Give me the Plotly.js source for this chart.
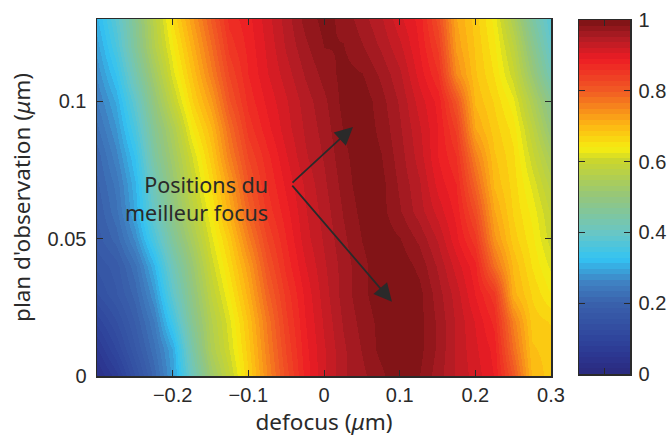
<!DOCTYPE html>
<html><head><meta charset="utf-8">
<script src="https://cdn.plot.ly/plotly-3.0.1.min.js"></script>
<style>html,body{margin:0;padding:0;background:#fff}</style></head>
<body><div id="chart" style="width:671px;height:437px"></div>
<script>
const defocus=[-0.3,-0.275,-0.25,-0.225,-0.2,-0.175,-0.15,-0.125,-0.1,-0.075,-0.05,-0.025,0,0.025,0.05,0.075,0.1,0.125,0.15,0.175,0.2,0.225,0.25,0.275,0.3];
const plan=[0,0.01,0.02,0.03,0.04,0.05,0.06,0.07,0.08,0.09,0.10,0.11,0.12,0.13];
const intensity=[
[.03,.07,.14,.21,.29,.41,.52,.59,.67,.75,.82,.88,.92,.95,.965,.98,1,.985,.96,.935,.915,.89,.81,.7,.68],
[.06,.11,.17,.23,.3,.44,.55,.61,.68,.76,.83,.885,.92,.95,.97,.99,1,.99,.965,.935,.91,.885,.78,.69,.68],
[.1,.14,.19,.25,.35,.47,.56,.62,.69,.77,.84,.89,.925,.955,.975,.99,1,.99,.965,.935,.905,.87,.76,.68,.67],
[.14,.17,.21,.28,.39,.49,.58,.64,.71,.79,.85,.895,.93,.96,.98,.995,1,.99,.96,.93,.89,.85,.71,.67,.64],
[.16,.18,.23,.31,.42,.51,.6,.66,.73,.81,.865,.905,.935,.96,.98,.995,.995,.98,.95,.915,.88,.78,.7,.655,.62],
[.18,.21,.27,.36,.46,.54,.62,.68,.76,.83,.875,.915,.94,.965,.985,.995,.985,.965,.935,.895,.85,.74,.68,.645,.6],
[.19,.23,.3,.4,.49,.57,.64,.71,.79,.85,.885,.92,.945,.97,.99,.99,.97,.945,.915,.885,.82,.72,.67,.635,.59],
[.2,.24,.31,.42,.51,.59,.66,.73,.81,.86,.895,.925,.95,.975,.995,.99,.965,.94,.9,.875,.79,.7,.665,.62,.57],
[.21,.26,.33,.45,.53,.61,.68,.76,.83,.87,.905,.935,.955,.98,.995,.985,.96,.93,.89,.86,.76,.69,.66,.6,.54],
[.23,.28,.36,.47,.55,.64,.7,.78,.85,.885,.915,.94,.96,.985,.995,.98,.955,.925,.89,.84,.72,.68,.65,.58,.5],
[.25,.3,.39,.5,.59,.67,.73,.81,.865,.895,.92,.945,.965,.99,.995,.975,.95,.915,.885,.81,.7,.67,.63,.55,.47],
[.27,.33,.43,.53,.62,.69,.76,.83,.875,.905,.93,.955,.975,.99,.985,.965,.94,.9,.86,.75,.69,.655,.6,.51,.42],
[.29,.36,.46,.56,.64,.71,.78,.85,.88,.91,.94,.965,.985,.985,.97,.95,.925,.89,.84,.73,.685,.645,.58,.48,.39],
[.31,.38,.47,.57,.66,.73,.8,.865,.885,.915,.945,.975,.99,.98,.96,.94,.91,.885,.82,.72,.68,.635,.55,.45,.37]
];
const xTicks=[-0.2,-0.1,0,0.1,0.2,0.3];
const xLabels=['−0.2','−0.1','0','0.1','0.2','0.3'];
const yTicks=[0,0.05,0.1];
const yLabels=['0','0.05','0.1'];
const barTicks=[0,0.2,0.4,0.6,0.8,1];
const barLabels=['0','0.2','0.4','0.6','0.8','1'];
const stopPos=[0,.05,.1,.2,.26,.325,.4,.5,.6,.637,.7,.8,.89,.95,1];
const stopCol=[[43,42,126],[44,53,144],[47,69,156],[58,97,172],[63,130,195],[51,196,243],[105,198,196],[148,198,124],[200,213,47],[246,237,16],[253,185,19],[241,90,36],[237,28,36],[176,28,36],[122,19,21]];
const nLevels=64;

function colorAt(t){
  let i=0; while(i<stopPos.length-2 && t>stopPos[i+1]) i++;
  const f=(t-stopPos[i])/(stopPos[i+1]-stopPos[i]);
  const c=stopCol[i].map((v,k)=>Math.round(v+f*(stopCol[i+1][k]-v)));
  return 'rgb('+c.join(',')+')';
}
const colorscale=[], levels=[], levelY=[];
for(let i=0;i<nLevels;i++){
  const c=colorAt((i+.5)/nLevels);
  colorscale.push([i/nLevels,c],[(i+1)/nLevels,c]);
  levels.push([(i+.5)/nLevels]);
  levelY.push((i+.5)/nLevels);
}
const ink='#2a2a2a', family='"Noto Sans", sans-serif';
const font={family:'"Liberation Sans", Arial, sans-serif',size:20,color:ink}, titleFont={family:family,size:22.5,color:ink};
const W=671,H=437;
const base={showgrid:false,zeroline:false,showline:true,linecolor:ink,linewidth:1.5,mirror:'ticks',ticks:'inside',ticklen:6,tickcolor:ink,tickwidth:1,tickfont:font};
const tail={ax:-0.0436,ay:0.0699,axref:'x',ayref:'y',xref:'x',yref:'y',text:'',showarrow:true,arrowhead:2,arrowsize:2,arrowwidth:1.8,arrowcolor:ink};
Plotly.newPlot('chart',[
 {type:'heatmap',x:defocus,y:plan,z:intensity,zmin:0,zmax:1,zsmooth:'best',colorscale:colorscale,showscale:false,xaxis:'x',yaxis:'y'},
 {type:'heatmap',x:[0],y:levelY,z:levels,zmin:0,zmax:1,colorscale:colorscale,showscale:false,xaxis:'x2',yaxis:'y2'}
],{
 width:W,height:H,margin:{l:0,r:0,t:0,b:0},paper_bgcolor:'#fff',plot_bgcolor:'#fff',font:font,showlegend:false,
 xaxis:Object.assign({},base,{domain:[97/W,551/W],range:[-0.3,0.3],tickmode:'array',tickvals:xTicks,ticktext:xLabels,anchor:'y',title:{text:'defocus (<i>μ</i>m)',font:titleFont,standoff:9}}),
 yaxis:Object.assign({},base,{domain:[(H-376)/H,(H-19)/H],range:[0,0.13],tickmode:'array',tickvals:yTicks,ticktext:yLabels,anchor:'x',ticklabelstandoff:5,title:{text:"plan d'observation (<i>μ</i>m)",font:titleFont,standoff:10}}),
 xaxis2:Object.assign({},base,{domain:[579/W,630/W],range:[-0.5,0.5],tickmode:'array',tickvals:[0],ticktext:[''],anchor:'y2',ticklen:6}),
 yaxis2:Object.assign({},base,{domain:[(H-374)/H,(H-20)/H],range:[0,1],side:'right',tickmode:'array',tickvals:barTicks,ticktext:barLabels,anchor:'x2',ticklen:6,ticklabelstandoff:3}),
 annotations:[
  Object.assign({},tail,{x:0.0383,y:0.0907}),
  Object.assign({},tail,{x:0.0898,y:0.027}),
  {x:-0.0715,y:0.0648,xref:'x',yref:'y',xanchor:'right',yanchor:'middle',align:'right',showarrow:false,text:'Positions du<br>meilleur focus',font:{family:family,size:21.5,color:ink}}
 ]
},{displayModeBar:false,staticPlot:true});
</script></body></html>
